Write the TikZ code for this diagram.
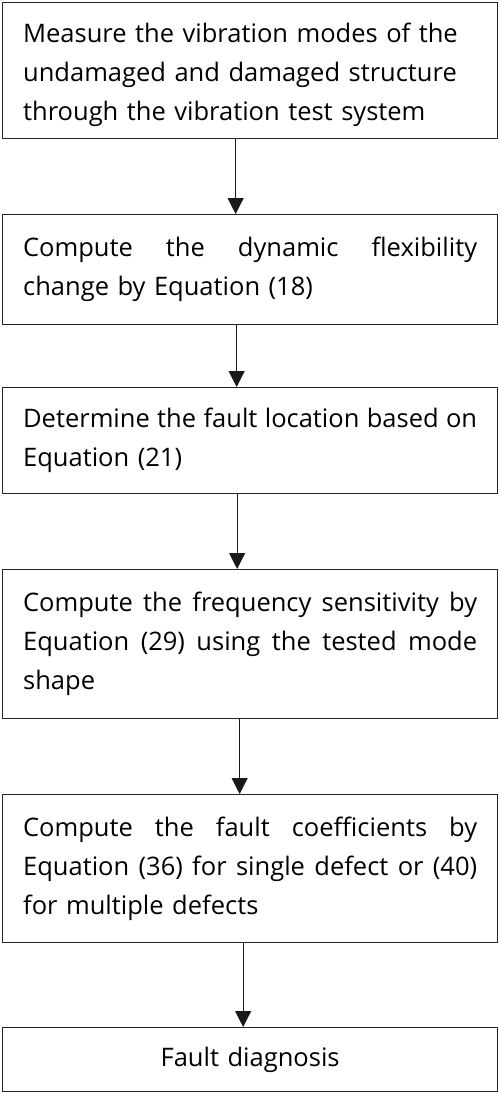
\documentclass[tikz,border=0pt]{standalone}
\usepackage{fontspec}
\setmainfont{Open Sans}
\usetikzlibrary{arrows.meta}
\newcommand\jline[1]{\leavevmode\hbox to 454pt{#1}}
\tikzset{
  flowbox/.style={draw=black!85, line width=1.3pt, rectangle, anchor=north west,
    minimum width=495pt, text width=454pt, align=left,
    font=\fontsize{25.5}{39}\selectfont, inner sep=0pt},
  flowarrow/.style={draw=black!90, line width=1pt, -{Triangle[width=16pt,length=16pt]}}
}
\begin{document}
\begin{tikzpicture}[x=1pt,y=-1pt]
\useasboundingbox (0,0) rectangle (500,1093);
\node[flowbox, minimum height=136pt] (b1) at (2,2) {\rule{0pt}{28pt}Measure the vibration modes of the\\undamaged and damaged structure\\through the vibration test system};
\node[flowbox, minimum height=110pt] (b2) at (2,214) {\jline{Compute\hfill the\hfill dynamic\hfill flexibility}\\change by Equation (18)};
\node[flowbox, minimum height=106pt] (b3) at (2,387) {\jline{Determine\hfill the\hfill fault\hfill location\hfill based\hfill on}\\Equation (21)};
\node[flowbox, minimum height=149pt] (b4) at (2,569) {\jline{Compute\hfill the\hfill frequency\hfill sensitivity\hfill by}\\\jline{Equation\hfill (29)\hfill using\hfill the\hfill tested\hfill mode}\\shape};
\node[flowbox, minimum height=148pt] (b5) at (2,794) {\jline{Compute\hfill the\hfill fault\hfill coefficients\hfill by}\\\jline{Equation\hfill (36)\hfill for\hfill single\hfill defect\hfill or\hfill (40)}\\for multiple defects};
\node[flowbox, minimum height=64pt, align=center] (b6) at (2,1027) {Fault diagnosis};
\draw[flowarrow] ([xshift=-14.5pt]b1.south) -- ([xshift=-14.5pt]b2.north);
\draw[flowarrow] ([xshift=-13.5pt]b2.south) -- ([xshift=-13.5pt]b3.north);
\draw[flowarrow] ([xshift=-13pt]b3.south) -- ([xshift=-13pt]b4.north);
\draw[flowarrow] ([xshift=-10.5pt]b4.south) -- ([xshift=-10.5pt]b5.north);
\draw[flowarrow] ([xshift=-7pt]b5.south) -- ([xshift=-7pt]b6.north);
\end{tikzpicture}
\end{document}
